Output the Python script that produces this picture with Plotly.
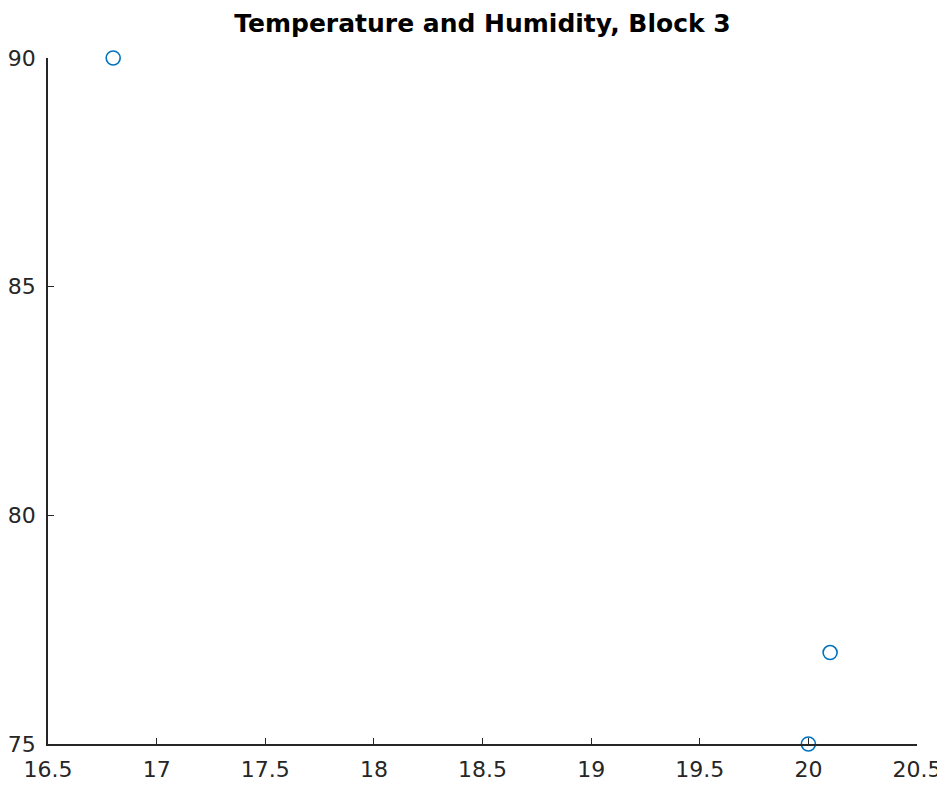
import plotly.graph_objects as go

temperature = [16.8, 20.0, 20.1]
humidity = [90, 75, 77]
x_ticks = [16.5, 17, 17.5, 18, 18.5, 19, 19.5, 20, 20.5]
y_ticks = [75, 80, 85, 90]
title = "Temperature and Humidity, Block 3"

# page body has an 8px default margin; size the figure to fit the 945x786 window
W, H = 937, 778

fig = go.Figure()
fig.add_trace(go.Scatter(
    x=temperature, y=humidity, mode="markers",
    marker=dict(symbol="circle-open", size=14, color="#0072BD", line=dict(width=1.6, color="#0072BD")),
    cliponaxis=False, showlegend=False,
))

axis_common = dict(
    showgrid=False, zeroline=False, showline=True, linecolor="#262626", linewidth=1.5,
    ticks="inside", ticklen=6, tickwidth=1.2, tickcolor="#262626",
    tickfont=dict(family="DejaVu Sans", size=22, color="#262626"),
    mirror=False, automargin=False,
)
fig.update_xaxes(range=[16.5, 20.5], tickvals=x_ticks, ticktext=[f"{v:g}" for v in x_ticks],
                 ticklabelstandoff=5, **axis_common)
fig.update_yaxes(range=[75, 90], tickvals=y_ticks, ticktext=[str(v) for v in y_ticks],
                 ticklabelstandoff=6, **axis_common)

fig.update_layout(
    width=W, height=H,
    margin=dict(l=40, r=28, t=50, b=42),
    paper_bgcolor="white", plot_bgcolor="white",
    title=dict(text="<b>" + title + "</b>", x=0.5, xref="paper", xanchor="center", y=1 - 15 / H, yanchor="middle",
               font=dict(family="DejaVu Sans", size=25, color="#000000")),
)
fig.write_html("out.html")
